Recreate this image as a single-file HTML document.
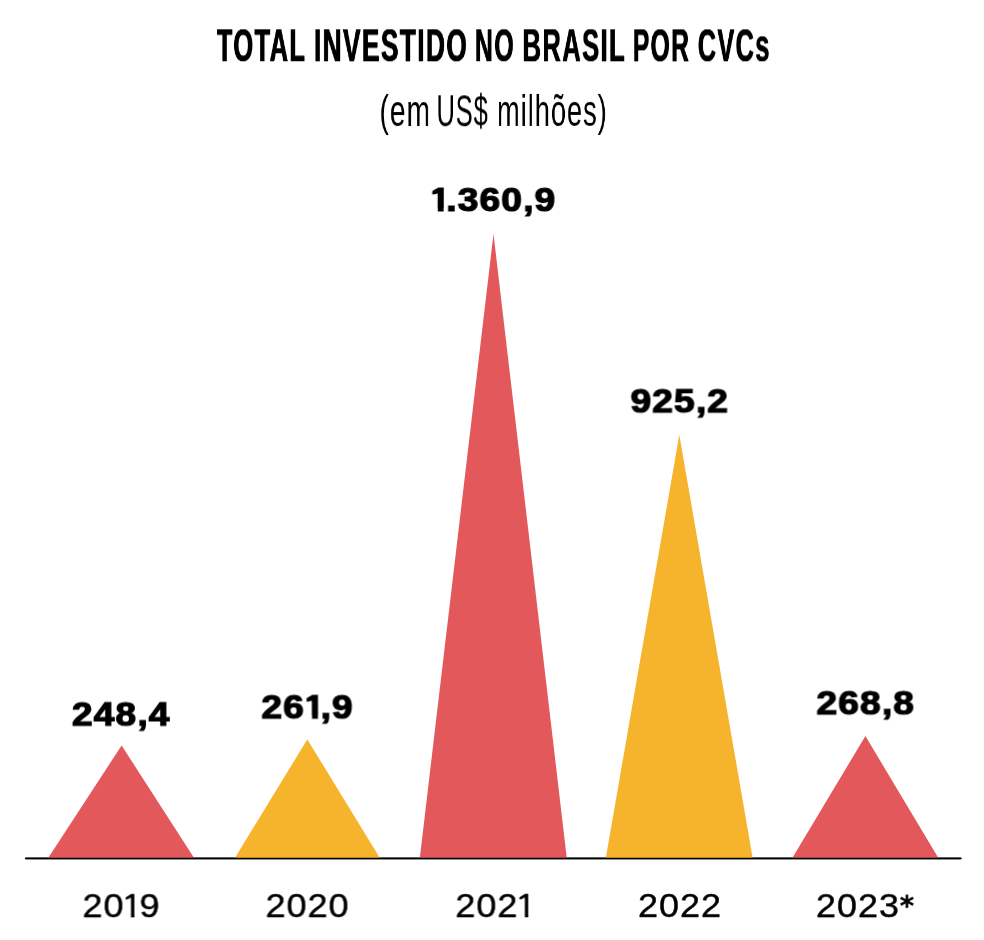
<!DOCTYPE html>
<html lang="pt-BR">
<head>
<meta charset="utf-8">
<title>Total investido no Brasil por CVCs</title>
<style>
  html, body { margin: 0; padding: 0; background: #ffffff; }
  body { width: 984px; height: 940px; overflow: hidden; position: relative; }
  svg { position: absolute; left: 0; top: 0; display: block; }
  h1, p { position: absolute; left: 0; top: 0; margin: 0; padding: 0; line-height: 1; }
  .t { position: absolute; left: 0; top: 0; white-space: nowrap; line-height: 1; color: #000000; transform-origin: 0 0; margin: 0; padding: 0; will-change: transform; }
  .title { font-family: "Liberation Sans", sans-serif; font-weight: 700; font-size: 45.7px; letter-spacing: 2.5px; text-shadow: 0.6px 0 0 #000000, -0.6px 0 0 #000000; }
  .sub { font-family: "Liberation Sans", sans-serif; font-weight: 400; font-size: 45px; letter-spacing: 1.6px; }
  .val { font-family: "Liberation Sans", sans-serif; font-weight: 700; font-size: 32.6px; letter-spacing: 1px; -webkit-text-stroke: 1.2px #000000; }
  .val .one { display: inline-block; clip-path: polygon(2.54px -9.00px, 12.73px -9.00px, 12.73px 23.37px, 12.38px 23.37px, 12.38px 50.00px, 7.31px 50.00px, 7.31px 23.37px, 6.96px 23.37px, 6.96px 10.17px, 2.54px 10.17px); margin-left: -1.13px; margin-right: -4.38px; }
  .yr { font-family: "Liberation Sans", sans-serif; font-weight: 400; font-size: 33.5px; letter-spacing: 0.9px; -webkit-text-stroke: 0.42px #000000; }
  .yr .ast { font-family: "DejaVu Sans", "Liberation Sans", sans-serif; font-size: 26px; vertical-align: 2.4px; margin-left: 0.2px; line-height: 0; -webkit-text-stroke-width: 1.1px; }
  .yr .one { display: inline-block; clip-path: polygon(3.37px -9.00px, 11.64px -9.00px, 11.64px 25.35px, 11.49px 25.35px, 11.49px 50.00px, 8.32px 50.00px, 8.32px 25.35px, 8.16px 25.35px, 8.16px 10.31px, 3.37px 10.31px); margin-left: -2.21px; margin-right: -3.34px; }
</style>
</head>
<body>
<svg width="984" height="940" viewBox="0 0 984 940" role="img" aria-label="Gráfico: total investido no Brasil por CVCs">
  <rect x="24.9" y="857.42" width="936.7" height="1.9" rx="0.95" fill="#000000"/>
  <polygon points="47.85,858.4 121.6,745.5 194.45,858.4" fill="#e2585b"/>
  <polygon points="234.59,858.4 307.3,739.4 380.21,858.4" fill="#f6b42d"/>
  <polygon points="419.78,858.4 493.5,234.0 566.82,858.4" fill="#e2585b"/>
  <polygon points="605.73,858.4 679.3,434.8 752.77,858.4" fill="#f6b42d"/>
  <polygon points="792.00,858.4 865.4,736.1 938.70,858.4" fill="#e2585b"/>
  <rect x="24.9" y="857.65" width="936.7" height="1.67" rx="0.84" fill="#000000"/>
</svg>
<h1 class="title"><span class="t" style="transform: translate(216.785px, 23.278px) scale(0.5580, 0.999);">TOTAL</span> <span class="t" style="transform: translate(313.925px, 23.308px) scale(0.5742, 0.999);">INVESTIDO</span> <span class="t" style="transform: translate(474.833px, 23.266px) scale(0.5471, 0.999);">NO</span> <span class="t" style="transform: translate(522.470px, 23.299px) scale(0.5599, 0.999);">BRASIL</span> <span class="t" style="transform: translate(632.847px, 23.374px) scale(0.5392, 0.999);">POR</span> <span class="t" style="transform: translate(697.759px, 23.348px) scale(0.5536, 0.999);">CVCs</span></h1>
<p class="sub"><span class="t" style="transform: translate(379.490px, 88.057px) scale(0.6253, 0.999);">(em</span> <span class="t" style="transform: translate(436.426px, 88.259px) scale(0.5660, 0.999);">US$</span> <span class="t" style="transform: translate(497.025px, 87.923px) scale(0.6051, 0.999);">milhões)</span></p>
<div class="t val" style="transform: translate(71.905px, 698.486px) scale(1.1400, 0.999);">248,4</div>
<div class="t val" style="transform: translate(261.397px, 691.306px) scale(1.1400, 0.999);">26<span class="one">1</span>,9</div>
<div class="t val" style="transform: translate(430.739px, 184.020px) scale(1.1400, 0.999);"><span class="one">1</span>.360,9</div>
<div class="t val" style="transform: translate(630.500px, 385.294px) scale(1.1400, 0.999);">925,2</div>
<div class="t val" style="transform: translate(816.447px, 687.271px) scale(1.1400, 0.999);">268,8</div>
<div class="t yr" style="transform: translate(82.438px, 889.141px) scale(1.0740, 0.999);">20<span class="one">1</span>9</div>
<div class="t yr" style="transform: translate(265.537px, 889.045px) scale(1.0740, 0.999);">2020</div>
<div class="t yr" style="transform: translate(455.315px, 889.029px) scale(1.0740, 0.999);">202<span class="one">1</span></div>
<div class="t yr" style="transform: translate(637.954px, 888.943px) scale(1.0740, 0.999);">2022</div>
<div class="t yr" style="transform: translate(815.891px, 889.136px) scale(1.0740, 0.999);">2023<span class="ast">*</span></div>
</body>
</html>
